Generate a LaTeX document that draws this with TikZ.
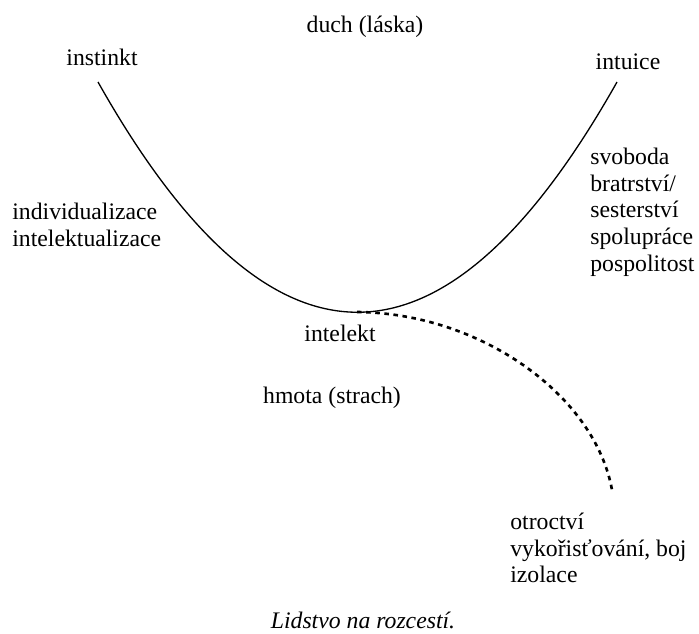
\documentclass[tikz,border=0pt]{standalone}
\usepackage{fontspec}
\setmainfont{Liberation Serif}
\usepackage{tikz}

\tikzset{
  popis/.style={inner sep=0pt, font=\fontsize{13.5}{15.2}\selectfont},
  blok/.style={popis, align=left, anchor=west},
  carkovane/.style={line width=1.5pt, dash pattern=on 2.6pt off 2.6pt},
}

\begin{document}
\begin{tikzpicture}[x=0.02cm, y=-0.02cm]
		\useasboundingbox (0,0) rectangle (699,633);
		\node[popis] (duch) at (365,27) {duch (láska)};
		\node[popis] (instinkt) at (102,57) {instinkt};
		\node[popis] (intuice) at (628,62) {intuice};
		\node[blok] (vlevo) at (12,225) {individualizace\\intelektualizace};
		\node[blok] (vpravo) at (590,212) {svoboda\\bratrství/\\sesterství\\spolupráce\\pospolitost};
		\node[popis] (intelekt) at (340,333) {intelekt};
		\node[popis] (hmota) at (332,398) {hmota (strach)};
		\node[blok] (dole) at (510,548) {otroctví\\vykořisťování, boj\\izolace};
		\node[popis, font=\fontsize{13.5}{15.2}\selectfont\itshape] (titulek) at (363,620) {Lidstvo na rozcestí.};

		\coordinate (levy) at (98,82);
		\coordinate (pravy) at (617,82);
		\coordinate (dno) at (357,312);
		\coordinate (konec) at (612,490);

		\draw[line width=0.75pt] (levy) .. controls (271,389) and (444,389) .. (pravy);
		\draw[carkovane] (dno) .. controls (480,313) and (595,395) .. (konec);
\end{tikzpicture}
\end{document}
